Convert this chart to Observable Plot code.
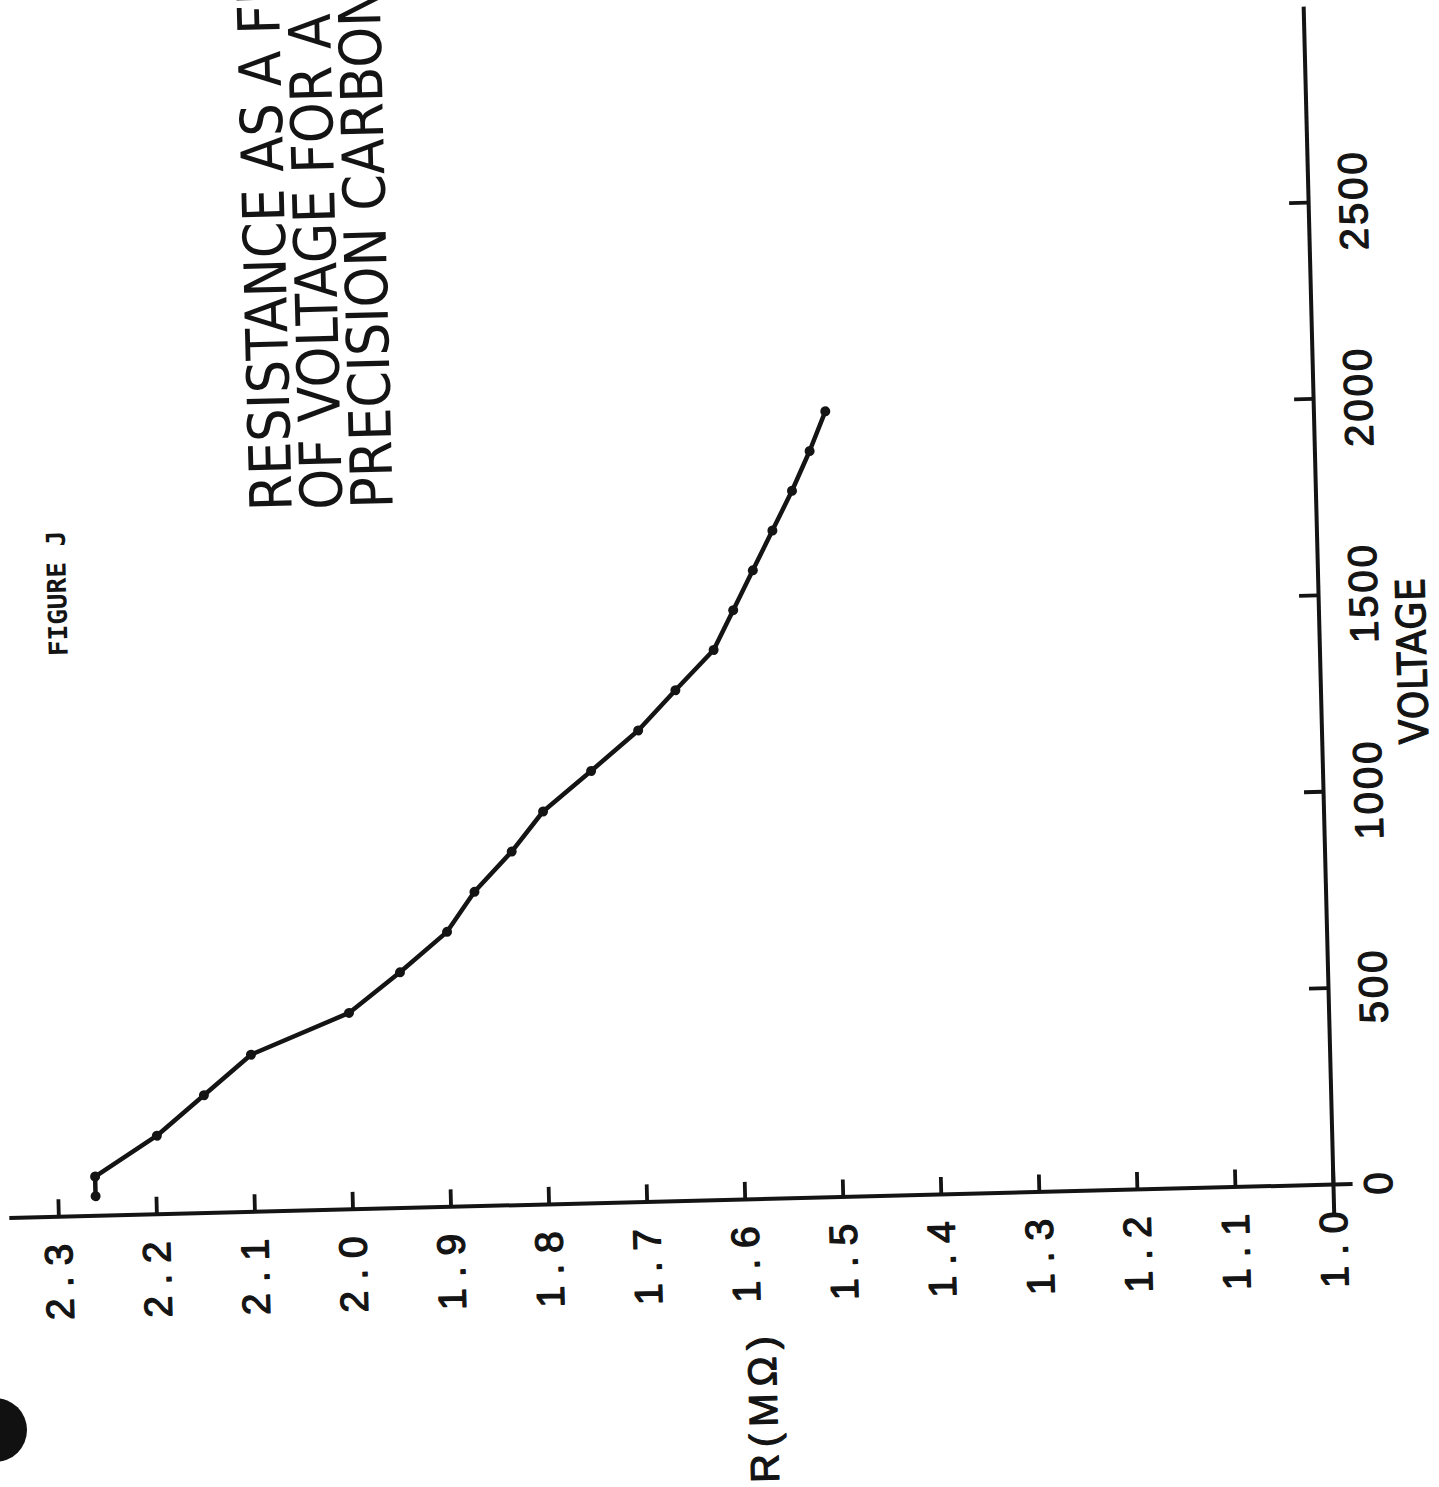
<!DOCTYPE html>
<html>
<head>
<meta charset="utf-8">
<script src="https://cdn.jsdelivr.net/npm/d3@7"></script>
<script src="https://cdn.jsdelivr.net/npm/@observablehq/plot@0.6"></script>
<style>
  html, body { margin: 0; padding: 0; width: 1439px; height: 1487px; overflow: hidden; background: #fff; }
  #frame { position: absolute; left: 1031px; top: -148px; width: 1487px; height: 1439px;
           transform-origin: 302px 1333px; transform: rotate(-91.45deg); }
  #frame svg { overflow: visible; max-width: none; }
  #punch { position: absolute; left: -37px; top: 1398px; width: 64px; height: 64px; border-radius: 50%; background: #111; }
</style>
</head>
<body>
<div id="frame"></div>
<div id="punch"></div>
<script>
// ---- data ----
const voltage = [50, 100, 200, 300, 400, 500, 600, 700, 800, 900, 1000,
                 1100, 1200, 1300, 1400, 1500, 1600, 1700, 1800, 1900, 2000];
const resistance = [2.262, 2.262, 2.198, 2.149, 2.100, 1.999, 1.946, 1.897, 1.868, 1.829, 1.796,
                    1.746, 1.697, 1.658, 1.618, 1.597, 1.576, 1.555, 1.534, 1.515, 1.498];
const voltageTicks = [0, 500, 1000, 1500, 2000, 2500];
const resistanceTicks = [1.0, 1.1, 1.2, 1.3, 1.4, 1.5, 1.6, 1.7, 1.8, 1.9, 2.0, 2.1, 2.2, 2.3];
const titleLines = ["RESISTANCE AS A FUNCTION", "OF VOLTAGE FOR A", "PRECISION CARBON RESISTOR"];
const figureLabel = "FIGURE J";
const xLabel = "VOLTAGE";
const yLabel = "R(MΩ)";

const data = voltage.map((v, i) => ({v, r: resistance[i]}));
const ink = "#141414";
const sans = "'Liberation Sans', Arial, Helvetica, sans-serif";
const narrow = "'Liberation Sans Narrow', 'DejaVu Sans Condensed', 'Liberation Sans', sans-serif";

const chart = Plot.plot({
  width: 1487,
  height: 1439,
  marginLeft: 272.5,
  marginRight: 6.3,
  marginTop: 8.9,
  marginBottom: 86.4,
  x: {domain: [-75, 3000], axis: null},
  y: {domain: [0.98, 2.35], axis: null},
  style: {background: "transparent", color: ink, overflow: "visible"},
  marks: [
    // axis lines
    Plot.ruleY([1.0], {stroke: ink, strokeWidth: 4}),
    Plot.ruleX([0], {stroke: ink, strokeWidth: 4}),
    // inward ticks
    Plot.ruleY(resistanceTicks, {y: d => d, x1: 0, x2: 0, insetRight: -18, stroke: ink, strokeWidth: 3.8}),
    Plot.ruleX(voltageTicks.filter(d => d > 0), {x: d => d, y1: 1.0, y2: 1.0, insetBottom: 19, stroke: ink, strokeWidth: 3.8}),
    // tick labels
    Plot.text(resistanceTicks, {
      x: 0, y: d => d, text: d => d.toFixed(1), textAnchor: "end", lineAnchor: "middle",
      dx: -16, fontSize: 39, fontFamily: sans, fill: ink, stroke: ink, strokeWidth: 1.3
    }),
    Plot.text(voltageTicks, {
      x: d => d, y: 1.0, text: d => String(d), textAnchor: "middle", lineAnchor: "top",
      dy: 30, dx: 1.5, fontSize: 40, fontFamily: sans, fill: ink, stroke: ink, strokeWidth: 1.2
    }),
    // axis titles
    Plot.text([xLabel], {
      x: 1328, y: 0.905, text: d => d, textAnchor: "middle", lineAnchor: "middle",
      fontSize: 40, fontFamily: narrow, fill: ink, stroke: ink, strokeWidth: 1.2
    }),
    Plot.text([yLabel], {
      x: -527, y: 1.586, text: d => d, textAnchor: "middle", lineAnchor: "middle",
      fontSize: 40, fontFamily: sans, fill: ink, stroke: ink, strokeWidth: 1.2
    }),
    // figure label and title
    Plot.text([figureLabel], {
      x: 1586, y: 2.285, text: d => d, textAnchor: "middle", lineAnchor: "middle",
      fontSize: 26, fontWeight: "bold", fontFamily: "'DejaVu Sans Mono', 'Liberation Mono', monospace", fill: ink
    }),
    Plot.text([titleLines.join("\n")], {
      x: 1782, y: 2.0808, text: d => d, textAnchor: "start", lineAnchor: "top", lineHeight: 0.87,
      fontSize: 58, fontFamily: narrow, fill: ink
    }),
    // data
    Plot.line(data, {x: "v", y: "r", stroke: ink, strokeWidth: 4.5, strokeLinejoin: "round"}),
    Plot.dot(data, {x: "v", y: "r", r: 5, fill: ink})
  ]
});

// letter spacing of the hand-lettered labels
d3.select(chart).selectAll("text").each(function () {
  const t = this.textContent;
  if (/^\d\.\d$/.test(t)) this.style.letterSpacing = "11px";
  else if (/^\d+$/.test(t)) this.style.letterSpacing = "3px";
  else if (t === yLabel) this.style.letterSpacing = "7px";
  else if (t === xLabel) this.style.letterSpacing = "1px";
});
document.getElementById("frame").appendChild(chart);
</script>
</body>
</html>
